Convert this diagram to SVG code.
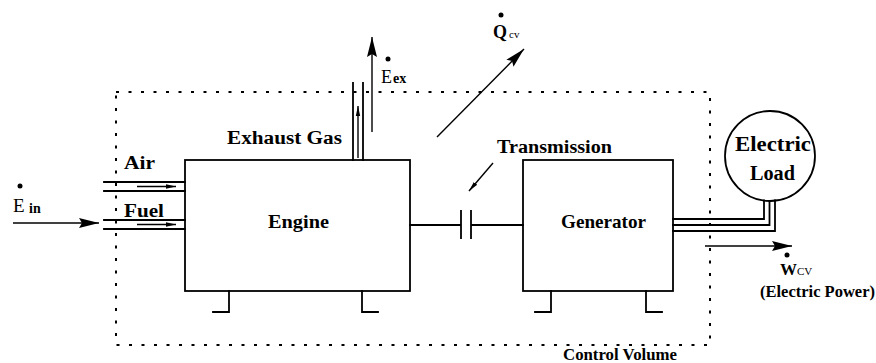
<svg xmlns="http://www.w3.org/2000/svg" width="876" height="363" viewBox="0 0 876 363">
<style>
.ln{stroke:#000;stroke-width:1.8;fill:none;stroke-linecap:square}
.th{stroke:#000;stroke-width:1.4;fill:none}
.dash{stroke:#000;stroke-width:2;fill:none;stroke-dasharray:3 9.5}
.box{stroke:#000;stroke-width:1.8;fill:#fff}
text{font-family:'Liberation Serif','DejaVu Serif',serif;font-weight:bold;fill:#000}
.n{font-weight:normal}
.dot{fill:#000}
</style>
<defs>
<marker id="big" markerUnits="userSpaceOnUse" markerWidth="22" markerHeight="13" refX="20" refY="5.5" orient="auto">
<path d="M0,0.5 L20,5.5 L0,10.5 L3,5.5 Z" fill="#000"/>
</marker>
<marker id="small" markerUnits="userSpaceOnUse" markerWidth="12" markerHeight="6" refX="10" refY="3" orient="auto">
<path d="M0,0.8 L10,3 L0,5.2 Z" fill="#000"/>
</marker>
</defs>
<rect width="876" height="363" fill="#fff"/>

<g id="control-volume">
<rect class="dash" x="116" y="92" width="594" height="253"/>
<text x="563" y="360" font-size="16.5" textLength="114" lengthAdjust="spacingAndGlyphs">Control Volume</text>
</g>

<g id="engine">
<rect class="box" x="185" y="160" width="225" height="131"/>
<path class="ln" d="M229,291 V312 H213 M362,291 V312 H378"/>
<text x="268" y="228" font-size="19" textLength="61" lengthAdjust="spacingAndGlyphs">Engine</text>
</g>

<g id="generator">
<rect class="box" x="523" y="160" width="150" height="131"/>
<path class="ln" d="M551,291 V312 H535 M646,291 V312 H662"/>
<text x="561" y="228" font-size="19" textLength="85" lengthAdjust="spacingAndGlyphs">Generator</text>
</g>

<g id="electric-load">
<circle class="ln" cx="770" cy="156" r="45"/>
<text x="735" y="151" font-size="20" textLength="76" lengthAdjust="spacingAndGlyphs">Electric</text>
<text x="750" y="180" font-size="20" textLength="45" lengthAdjust="spacingAndGlyphs">Load</text>
</g>

<g id="connectors">
<path class="ln" d="M104,182 H185 M104,191 H185"/>
<line class="th" x1="137" y1="186.5" x2="176" y2="186.5" marker-end="url(#small)"/>
<path class="ln" d="M104,220 H185 M104,229 H185"/>
<line class="th" x1="137" y1="224.5" x2="176" y2="224.5" marker-end="url(#small)"/>
<line class="th" x1="13" y1="223" x2="99" y2="223" marker-end="url(#big)"/>
<path class="ln" d="M353,160 V83 M363,160 V83"/>
<line class="th" x1="358" y1="158" x2="358" y2="106" marker-end="url(#small)"/>
<line class="th" x1="372" y1="132" x2="372" y2="37" marker-end="url(#big)"/>
<line class="th" x1="437" y1="137" x2="524" y2="49" marker-end="url(#big)"/>
<line class="th" x1="493" y1="163" x2="469" y2="191" marker-end="url(#small)"/>
<path class="ln" d="M410,225 H461 M461,211 V238 M471,211 V238 M471,225 H523"/>
<path class="ln" d="M673,219 H764 V200.5 M673,225 H769.5 V201 M673,231 H775 V200.5"/>
<line class="th" x1="705" y1="246" x2="792" y2="246" marker-end="url(#big)"/>
</g>

<g id="labels">
<text x="124" y="169" font-size="19" textLength="31" lengthAdjust="spacingAndGlyphs">Air</text>
<text x="124" y="217" font-size="19" textLength="40" lengthAdjust="spacingAndGlyphs">Fuel</text>
<text x="227" y="144" font-size="18" textLength="115" lengthAdjust="spacingAndGlyphs">Exhaust Gas</text>
<text x="497" y="153" font-size="18" textLength="115" lengthAdjust="spacingAndGlyphs">Transmission</text>
<circle class="dot" cx="20" cy="186" r="2.5"/>
<text class="n" x="13" y="212" font-size="19">E</text>
<text x="29" y="213" font-size="14">in</text>
<circle class="dot" cx="388" cy="59" r="2.5"/>
<text class="n" x="381" y="83" font-size="18">E</text>
<text x="393" y="83" font-size="14">ex</text>
<circle class="dot" cx="501" cy="15" r="2.5"/>
<text x="493" y="38" font-size="18">Q</text>
<text class="n" x="509" y="38" font-size="11">cv</text>
<circle class="dot" cx="787" cy="255" r="2.5"/>
<text x="780" y="275" font-size="17">W</text>
<text class="n" x="797" y="275" font-size="11">CV</text>
<text x="760" y="297" font-size="16.5" textLength="115" lengthAdjust="spacingAndGlyphs">(Electric Power)</text>
</g>
</svg>
